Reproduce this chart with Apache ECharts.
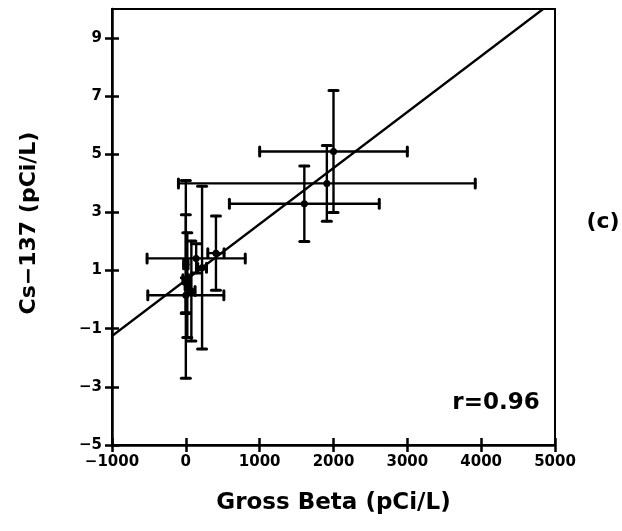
<!DOCTYPE html>
<html><head><meta charset="utf-8">
<script src="https://cdn.jsdelivr.net/npm/echarts@6/dist/echarts.min.js"></script>
<style>html,body{margin:0;padding:0;background:#fff}#c{width:622px;height:531px}</style>
</head><body><div id="c"></div>
<script>
// Axis ticks
const xTicks = [-1000, 0, 1000, 2000, 3000, 4000, 5000];
const yTicks = [-5, -3, -1, 1, 3, 5, 7, 9];
// Data: Gross Beta (pCi/L) vs Cs-137 (pCi/L), with error half-widths
const grossBeta    = [2000, 1910, 1605, 140, 0, 0, 0, 20, 75, 220, 408];
const cs137        = [5.1, 4.0, 3.3, 1.42, 0.15, 0.7, 1.22, 0.5, 0.3, 1.1, 1.6];
const grossBetaErr = [1000, 2010, 1015, 665, 515, 40, 30, 30, 50, 60, 110];
const cs137Err     = [2.1, 1.3, 1.3, 0.5, 0.6, 3.4, 1.7, 1.8, 1.72, 2.8, 1.28];
// Regression line endpoints
const fitX = [-1000, 4840];
const fitY = [-1.25, 10];

const FONT = 'DejaVu Sans';
const minusFmt = v => String(v).replace('-', '\u2212');

const points = grossBeta.map((x, i) => [x, cs137[i], grossBetaErr[i], cs137Err[i]]);
const fitData = fitX.map((x, i) => [x, fitY[i]]);

function renderItem(params, api) {
  const x = api.value(0), y = api.value(1), ex = api.value(2), ey = api.value(3);
  const c = api.coord([x, y]);
  const l = api.coord([x - ex, y]), r = api.coord([x + ex, y]);
  const t = api.coord([x, y + ey]), b = api.coord([x, y - ey]);
  const cap = 4.5;
  const ln = (x1, y1, x2, y2, w) => ({type: 'line', shape: {x1, y1, x2, y2},
    style: {stroke: '#000', lineWidth: w, lineCap: 'round'}});
  return {type: 'group', children: [
    ln(l[0], l[1], r[0], r[1], 2.4),
    ln(l[0], l[1] - cap, l[0], l[1] + cap, 3),
    ln(r[0], r[1] - cap, r[0], r[1] + cap, 3),
    ln(t[0], t[1], b[0], b[1], 2.4),
    ln(t[0] - cap, t[1], t[0] + cap, t[1], 3),
    ln(b[0] - cap, b[1], b[0] + cap, b[1], 3),
    {type: 'circle', shape: {cx: c[0], cy: c[1], r: 3.5}, style: {fill: '#000'}}
  ]};
}

const tickStyle = {color: '#000', width: 2.5};
const labelStyle = {color: '#000', fontFamily: FONT, fontWeight: 'bold', fontSize: 15};

const chart = echarts.init(document.getElementById('c'), null, {renderer: 'canvas'});
chart.setOption({
  animation: false,
  backgroundColor: '#fff',
  grid: {left: 112, right: 67, top: 9, bottom: 86, show: true, borderColor: '#000', borderWidth: 2},
  xAxis: [
    {type: 'value', min: -1000, max: 5000, position: 'bottom',
     axisLine: {onZero: false, lineStyle: tickStyle},
     axisTick: {customValues: xTicks, length: 7, lineStyle: tickStyle},
     axisLabel: Object.assign({customValues: xTicks, margin: 10, formatter: minusFmt}, labelStyle),
     splitLine: {show: false},
     name: 'Gross Beta (pCi/L)', nameLocation: 'middle', nameGap: 47,
     nameTextStyle: {color: '#000', fontFamily: FONT, fontWeight: 'bold', fontSize: 23}},
    {type: 'value', min: -1000, max: 5000, position: 'bottom',
     axisLine: {show: false, onZero: false},
     axisTick: {inside: true, customValues: xTicks, length: 7, lineStyle: tickStyle},
     axisLabel: {show: false}, splitLine: {show: false}}
  ],
  yAxis: [
    {type: 'value', min: -5, max: 10, position: 'left',
     axisLine: {onZero: false, lineStyle: tickStyle},
     axisTick: {customValues: yTicks, length: 7, lineStyle: tickStyle},
     axisLabel: Object.assign({customValues: yTicks, margin: 10, formatter: minusFmt}, labelStyle),
     splitLine: {show: false}},
    {type: 'value', min: -5, max: 10, position: 'left',
     axisLine: {show: false, onZero: false},
     axisTick: {inside: true, customValues: yTicks, length: 7, lineStyle: tickStyle},
     axisLabel: {show: false}, splitLine: {show: false}}
  ],
  graphic: [
    {type: 'text', x: 29, y: 223, rotation: Math.PI / 2,
     style: {text: 'Cs\u2212137 (pCi/L)', fill: '#000', font: 'bold 22px "DejaVu Sans"', align: 'center', verticalAlign: 'middle'}},
    {type: 'text', x: 496, y: 403,
     style: {text: 'r=0.96', fill: '#000', font: 'bold 23px "DejaVu Sans"', align: 'center', verticalAlign: 'middle'}},
    {type: 'text', x: 603, y: 222,
     style: {text: '(c)', fill: '#000', font: 'bold 22px "DejaVu Sans"', align: 'center', verticalAlign: 'middle'}}
  ],
  series: [
    {type: 'line', data: fitData, symbol: 'none', xAxisIndex: 0, yAxisIndex: 0,
     lineStyle: {color: '#000', width: 2.2}, z: 3},
    {type: 'custom', data: points, renderItem: renderItem, xAxisIndex: 0, yAxisIndex: 0, z: 4}
  ]
});
</script></body></html>
